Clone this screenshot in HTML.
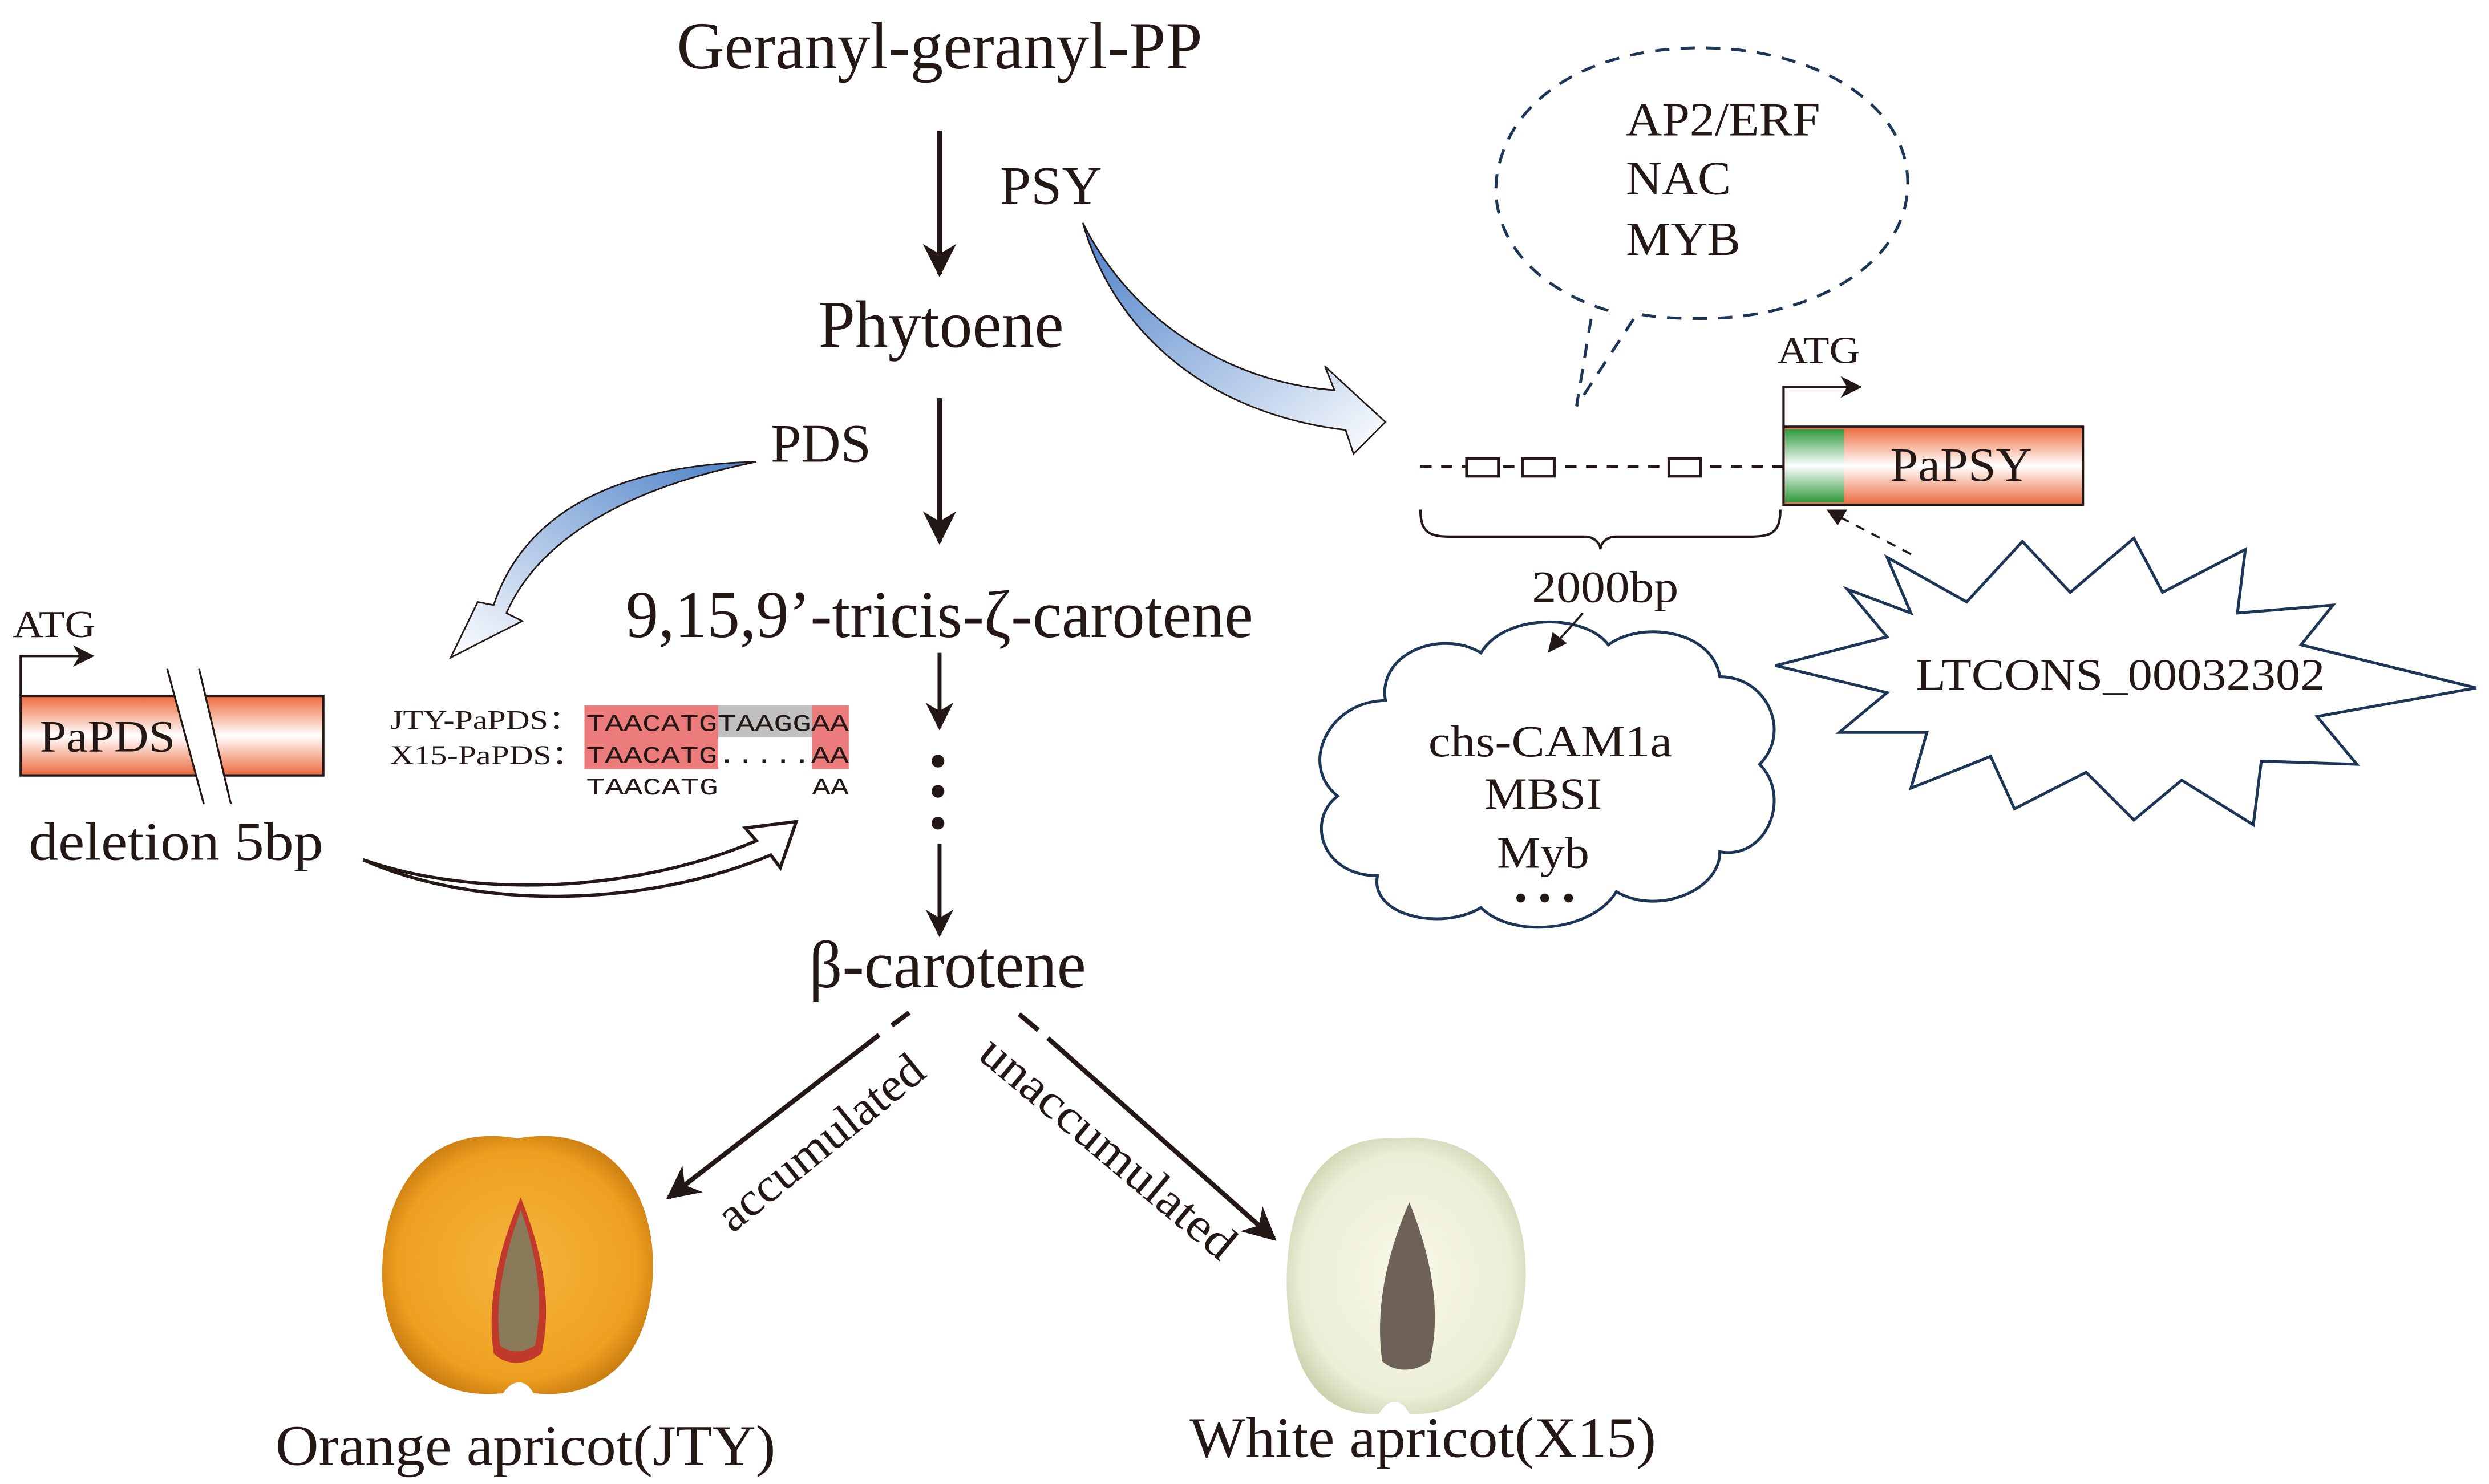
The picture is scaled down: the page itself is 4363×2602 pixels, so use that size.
<!DOCTYPE html>
<html><head><meta charset="utf-8"><style>
html,body{margin:0;padding:0;background:#fff;}
svg{display:block;}
text{font-family:"Liberation Serif","DejaVu Serif",serif;fill:#231815;}
.m{font-family:"Liberation Mono","DejaVu Sans Mono",monospace;}
</style></head><body>
<svg width="4363" height="2602" viewBox="0 0 1563 932" xmlns="http://www.w3.org/2000/svg">
<defs>
<linearGradient id="og" x1="0" y1="0" x2="0" y2="1">
<stop offset="0" stop-color="#ec6a3c"/><stop offset="0.5" stop-color="#fff"/><stop offset="1" stop-color="#ec6a3c"/></linearGradient>
<linearGradient id="gg" x1="0" y1="0" x2="0" y2="1">
<stop offset="0" stop-color="#2e9a3e"/><stop offset="0.5" stop-color="#fff"/><stop offset="1" stop-color="#2e9a3e"/></linearGradient>
<linearGradient id="bg1" x1="0" y1="0" x2="1" y2="1">
<stop offset="0" stop-color="#4a7fc8"/><stop offset="1" stop-color="#fff"/></linearGradient>
<linearGradient id="bg2" x1="1" y1="0" x2="0" y2="1">
<stop offset="0" stop-color="#4a7fc8"/><stop offset="1" stop-color="#fff"/></linearGradient>
<radialGradient id="orf" cx="0.5" cy="0.5" r="0.55">
<stop offset="0" stop-color="#f5b43c"/><stop offset="0.8" stop-color="#eea020"/><stop offset="1" stop-color="#c77a10"/></radialGradient>
<radialGradient id="whf" cx="0.5" cy="0.5" r="0.55">
<stop offset="0" stop-color="#f8f8e8"/><stop offset="0.8" stop-color="#eceed6"/><stop offset="1" stop-color="#cfd2b0"/></radialGradient>
<marker id="ah" viewBox="0 0 10 10" refX="9" refY="5" markerWidth="7" markerHeight="7" orient="auto"><path d="M0,0 L10,5 L0,10 L3,5z" fill="#231815"/></marker>
<marker id="ahs" viewBox="0 0 10 10" refX="9" refY="5" markerWidth="9" markerHeight="9" orient="auto"><path d="M0,0 L10,5 L0,10 L3,5z" fill="#231815"/></marker>
</defs>

<text x="425" y="43" font-size="42" textLength="330" lengthAdjust="spacingAndGlyphs">Geranyl-geranyl-PP</text>
<line x1="590" y1="82" x2="590" y2="172" stroke="#231815" stroke-width="3" marker-end="url(#ah)"/>
<text x="628" y="128" font-size="34" textLength="64" lengthAdjust="spacingAndGlyphs">PSY</text>
<text x="514" y="218" font-size="42" textLength="154" lengthAdjust="spacingAndGlyphs">Phytoene</text>
<text x="484" y="290" font-size="34" textLength="63" lengthAdjust="spacingAndGlyphs">PDS</text>
<line x1="590" y1="250" x2="590" y2="340" stroke="#231815" stroke-width="3" marker-end="url(#ah)"/>
<text x="393" y="400" font-size="42" textLength="394" lengthAdjust="spacingAndGlyphs">9,15,9’-tricis-ζ-carotene</text>
<line x1="590" y1="410" x2="590" y2="457" stroke="#231815" stroke-width="2.5" marker-end="url(#ah)"/>
<circle cx="589" cy="478" r="4" fill="#231815"/><circle cx="589" cy="497" r="4" fill="#231815"/><circle cx="589" cy="517" r="4" fill="#231815"/>
<line x1="590" y1="530" x2="590" y2="587" stroke="#231815" stroke-width="2.5" marker-end="url(#ah)"/>
<text x="508" y="620" font-size="42" textLength="174" lengthAdjust="spacingAndGlyphs">β-carotene</text>

<line x1="571" y1="636" x2="560" y2="644" stroke="#231815" stroke-width="3"/>
<line x1="552" y1="650" x2="420" y2="752" stroke="#231815" stroke-width="3" marker-end="url(#ah)"/>
<line x1="640" y1="637" x2="652" y2="647" stroke="#231815" stroke-width="3"/>
<line x1="658" y1="652" x2="800" y2="778" stroke="#231815" stroke-width="3" marker-end="url(#ah)"/>
<text x="0" y="0" font-size="30" textLength="158" lengthAdjust="spacingAndGlyphs" transform="translate(460,775) rotate(-39)">accumulated</text>
<text x="0" y="0" font-size="30" textLength="200" lengthAdjust="spacingAndGlyphs" transform="translate(613,664) rotate(40)">unaccumulated</text>

<path d="M325,715 C380,705 412,745 410,800 C408,850 380,880 335,875 C330,866 322,866 316,875 C270,880 240,850 240,800 C240,745 270,705 325,715z" fill="url(#orf)"/>
<path d="M327,752 C338,780 348,815 340,850 C330,858 318,858 310,850 C305,815 315,780 327,752z" fill="#c0392b"/>
<path d="M327,760 C336,785 342,815 336,845 C328,850 320,850 314,845 C310,815 318,785 327,760z" fill="#8a7a5a"/>
<path d="M878,715 C935,710 960,755 958,805 C955,858 925,890 885,888 C880,878 872,878 866,888 C825,890 808,855 808,805 C808,750 830,712 878,715z" fill="url(#whf)"/>
<path d="M885,755 C897,785 906,820 898,855 C888,862 876,862 868,855 C863,820 872,785 885,755z" fill="#6e6258"/>
<text x="173" y="920" font-size="36" textLength="314" lengthAdjust="spacingAndGlyphs">Orange apricot(JTY)</text>
<text x="747" y="915" font-size="36" textLength="293" lengthAdjust="spacingAndGlyphs">White apricot(X15)</text>

<path d="M680,140 C710,200 770,240 838,245 L832,230 L870,265 L850,285 L845,270 C760,260 700,210 680,140z" fill="url(#bg1)" stroke="#231815" stroke-width="1"/>
<path d="M475,290 C390,292 330,320 310,380 L300,378 L283,413 L328,390 L318,385 C340,335 400,305 475,290z" fill="url(#bg2)" stroke="#231815" stroke-width="1"/>
<path d="M228,540 C300,565 400,560 475,528 L468,520 L500,516 L490,545 L484,537 C405,570 300,572 228,540z" fill="#fff" stroke="#231815" stroke-width="2"/>

<text x="8" y="400" font-size="24" textLength="52" lengthAdjust="spacingAndGlyphs">ATG</text>
<polyline points="13,437 13,412 58,412" fill="none" stroke="#231815" stroke-width="1.5" marker-end="url(#ahs)"/>
<rect x="13" y="437" width="190" height="50" fill="url(#og)" stroke="#231815" stroke-width="1.5"/>
<polygon points="105,420 125,420 145,505 128,505" fill="#fff"/>
<line x1="105" y1="420" x2="128" y2="505" stroke="#231815" stroke-width="1.2"/>
<line x1="125" y1="420" x2="145" y2="505" stroke="#231815" stroke-width="1.2"/>
<text x="25" y="472" font-size="28" textLength="85" lengthAdjust="spacingAndGlyphs">PaPDS</text>
<text x="18" y="540" font-size="34" textLength="185" lengthAdjust="spacingAndGlyphs">deletion 5bp</text>

<rect x="367" y="443" width="84" height="40" fill="#ec7b7b"/>
<rect x="451" y="443" width="59" height="20" fill="#c0c0c0"/>
<rect x="510" y="443" width="23" height="40" fill="#ec7b7b"/>
<text x="245" y="458" font-size="17" textLength="120" lengthAdjust="spacingAndGlyphs">JTY-PaPDS：</text>
<text x="245" y="480" font-size="17" textLength="122" lengthAdjust="spacingAndGlyphs">X15-PaPDS：</text>
<text class="m" x="368" y="459" font-size="15" textLength="165" lengthAdjust="spacingAndGlyphs">TAACATGTAAGGAA</text>
<text class="m" x="368" y="479" font-size="15" textLength="165" lengthAdjust="spacingAndGlyphs">TAACATG.....AA</text>
<text class="m" x="368" y="499" font-size="15" textLength="83" lengthAdjust="spacingAndGlyphs">TAACATG</text>
<text class="m" x="510" y="499" font-size="15" textLength="23" lengthAdjust="spacingAndGlyphs">AA</text>

<path d="M1010,195 C960,180 935,145 940,110 C948,60 1000,30 1068,30 C1140,30 1198,65 1198,115 C1198,165 1140,200 1068,200 C1050,200 1038,199 1028,197 L990,255 L1000,195" fill="none" stroke="#1d3557" stroke-width="1.8" stroke-dasharray="9,7"/>
<text x="1021" y="85" font-size="30" textLength="122" lengthAdjust="spacingAndGlyphs">AP2/ERF</text>
<text x="1021" y="122" font-size="30" textLength="66" lengthAdjust="spacingAndGlyphs">NAC</text>
<text x="1021" y="160" font-size="30" textLength="72" lengthAdjust="spacingAndGlyphs">MYB</text>

<line x1="892" y1="293" x2="1120" y2="293" stroke="#231815" stroke-width="1.5" stroke-dasharray="7,6"/>
<rect x="921" y="288" width="20" height="11" fill="#fff" stroke="#231815" stroke-width="1.8"/>
<rect x="956" y="288" width="20" height="11" fill="#fff" stroke="#231815" stroke-width="1.8"/>
<rect x="1048" y="288" width="20" height="11" fill="#fff" stroke="#231815" stroke-width="1.8"/>
<text x="1116" y="228" font-size="24" textLength="52" lengthAdjust="spacingAndGlyphs">ATG</text>
<polyline points="1120,268 1120,243 1168,243" fill="none" stroke="#231815" stroke-width="1.5" marker-end="url(#ahs)"/>
<rect x="1120" y="268" width="188" height="49" fill="url(#og)" stroke="#231815" stroke-width="1.5"/>
<rect x="1121" y="269.5" width="37" height="46" fill="url(#gg)"/>
<text x="1187" y="302" font-size="30" textLength="89" lengthAdjust="spacingAndGlyphs">PaPSY</text>
<path d="M892,320 C892,335 898,337 912,337 L995,337 C1002,337 1005,342 1005,345 C1005,342 1008,337 1015,337 L1098,337 C1112,337 1118,335 1118,320" fill="none" stroke="#231815" stroke-width="1.5"/>
<text x="962" y="378" font-size="28" textLength="92" lengthAdjust="spacingAndGlyphs">2000bp</text>

<path d="M870,440 C865,410 905,395 930,410 C945,385 995,385 1010,405 C1030,390 1075,395 1080,425 C1110,425 1125,460 1105,480 C1125,500 1110,540 1080,535 C1080,560 1040,575 1015,560 C1000,585 950,590 930,570 C905,585 860,575 865,550 C830,550 820,515 840,500 C815,480 835,440 870,440z" fill="#fff" stroke="#1d3557" stroke-width="1.8"/>
<line x1="994" y1="385" x2="978" y2="403" stroke="#231815" stroke-width="1.3"/>
<polygon points="972,410 975,397 984,404" fill="#231815"/>
<text x="897" y="475" font-size="28" textLength="153" lengthAdjust="spacingAndGlyphs">chs-CAM1a</text>
<text x="932" y="508" font-size="28" textLength="74" lengthAdjust="spacingAndGlyphs">MBSI</text>
<text x="940" y="545" font-size="28" textLength="58" lengthAdjust="spacingAndGlyphs">Myb</text>
<circle cx="955" cy="564" r="2.8" fill="#231815"/><circle cx="970" cy="564" r="2.8" fill="#231815"/><circle cx="985" cy="564" r="2.8" fill="#231815"/>

<polygon points="1185,350 1235,378 1270,340 1300,372 1340,338 1358,372 1410,345 1405,385 1465,380 1445,405 1555,432 1455,450 1480,480 1420,478 1415,518 1370,490 1340,515 1310,485 1265,508 1250,475 1200,495 1210,460 1155,460 1185,435 1115,418 1185,400 1160,370 1200,385" fill="#fff" stroke="#1d3557" stroke-width="1.8"/>
<text x="1203" y="433" font-size="28" textLength="257" lengthAdjust="spacingAndGlyphs">LTCONS_00032302</text>
<line x1="1200" y1="348" x2="1156" y2="325" stroke="#231815" stroke-width="1.3" stroke-dasharray="6,5"/>
<polygon points="1147,320 1160,320 1154,330" fill="#231815"/>
</svg>
</body></html>
